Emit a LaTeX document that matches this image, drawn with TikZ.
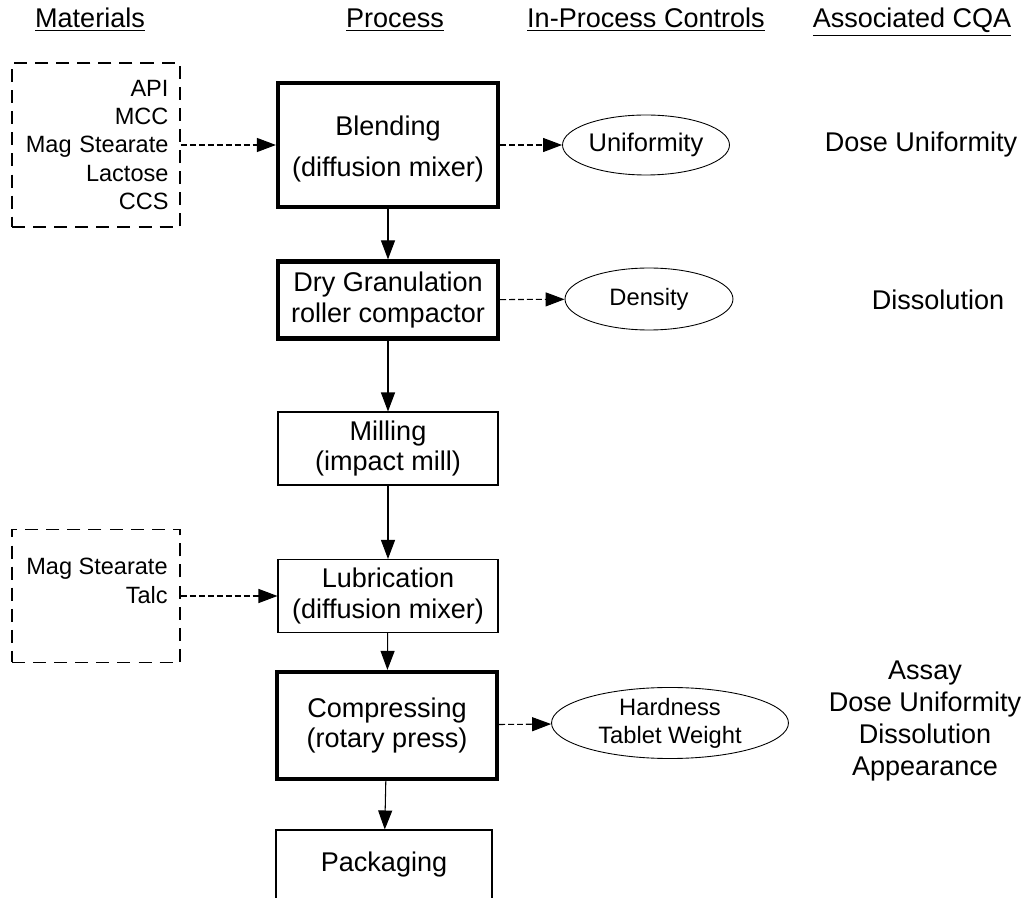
\documentclass[tikz,border=0pt]{standalone}
\usepackage{fontspec}
\setmainfont{Liberation Sans}
\usetikzlibrary{arrows.meta,positioning,shapes.geometric}

\begin{document}
\begin{tikzpicture}[
  x=0.02cm, y=-0.02cm,
  every node/.style={font=\fontsize{15.4}{17.6}\selectfont, inner sep=0pt},
  hdr/.style={anchor=base},
  procbox/.style={draw, line width=0.6pt, minimum width=4.4cm, align=center},
  keybox/.style={procbox, line width=2.4pt},
  matbox/.style={draw, dash pattern=on 7.4pt off 4.6pt, line width=1.1pt, minimum width=3.36cm},
  matlist/.style={align=right, font=\fontsize{13.4}{16.2}\selectfont},
  ctrl/.style={draw, ellipse, line width=0.5pt, align=center, font=\fontsize{13.5}{16}\selectfont},
  cqa/.style={align=center, font=\fontsize{15.4}{18.2}\selectfont},
  flow/.style={-{Triangle[length=0.38cm, width=0.28cm]}, line width=0.6pt},
  feed/.style={flow, dash pattern=on 3.4pt off 1.7pt}
]
  \useasboundingbox (0,0) rectangle (1029,898);

  % Column headers
  \node[hdr] (hmat) at (90,28) {\underline{Materials}};
  \node[hdr] (hproc) at (395,28) {\underline{Process}};
  \node[hdr] (hipc) at (646,28) {\underline{In-Process Controls}};
  \node[hdr] (hcqa) at (912,28) {\underline{Associated CQA}};

  % Materials
  \node[matbox, matlist, minimum height=3.28cm, text width=2.9cm] (mat1) at (96,145) {API\\MCC\\Mag Stearate\\Lactose\\CCS};
  \node[matbox, minimum height=2.66cm] (mat2) at (96,596) {};
  \node[matlist, anchor=east] (mat2txt) at (168,581) {Mag Stearate\\Talc};

  % Process steps (heavy frame = critical step)
  \node[keybox, minimum height=2.48cm] (blend) at (388,145) {\rule{0pt}{16pt}Blending\\[5.5pt](diffusion mixer)};
  \node[keybox, minimum height=1.54cm] (dry) at (388,300) {Dry Granulation\\roller compactor};
  \node[procbox, minimum height=1.46cm] (mill) at (388,448.5) {Milling\\(impact mill)};
  \node[procbox, minimum height=1.46cm] (lub) at (388,596) {Lubrication\\(diffusion mixer)};
  \node[keybox, minimum height=2.14cm] (comp) at (387,725.5) {Compressing\\(rotary press)};
  \node[procbox, minimum width=4.32cm, minimum height=1.4cm] (pack) at (384,865) {Packaging};

  % In-process controls
  \node[ctrl, minimum width=3.34cm, minimum height=1.2cm, font=\fontsize{14.5}{16}\selectfont] (uni) at (646,145) {Uniformity};
  \node[ctrl, minimum width=3.36cm, minimum height=1.24cm] (dens) at (649,299) {Density};
  \node[ctrl, minimum width=4.74cm, minimum height=1.42cm] (hard) at (670,723) {Hardness\\Tablet Weight};

  % Associated CQA
  \node[cqa] (cqa1) at (921,145) {Dose Uniformity};
  \node[cqa] (cqa2) at (938,300) {Dissolution};
  \node[cqa] (cqa3) at (925,721) {Assay\\Dose Uniformity\\Dissolution\\Appearance};

  % Flow
  \draw[feed] (mat1) -- (blend);
  \draw[feed] (blend) -- (uni);
  \draw[flow] (blend) -- (dry);
  \draw[feed] (dry) -- (dens);
  \draw[flow] (dry) -- (mill);
  \draw[flow] (mill) -- (lub);
  \draw[feed] (mat2) -- (lub);
  \draw[flow] (lub) -- (comp);
  \draw[feed] (comp) -- (hard);
  \draw[flow] (comp) -- (pack);
\end{tikzpicture}
\end{document}
